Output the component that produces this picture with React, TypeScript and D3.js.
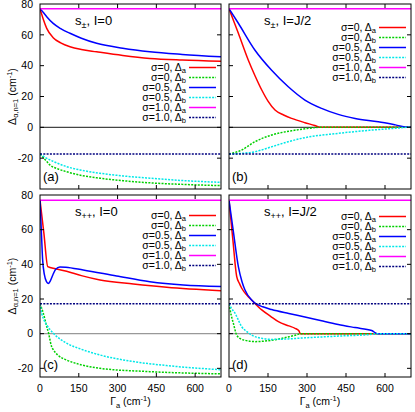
import React from "react";
import * as d3 from "d3";

type Pt = [number, number];

// ---------- data ----------
const GAMMA_DOMAIN: [number, number] = [0, 700];
const GAMMA_TICKS = [0, 150, 300, 450, 600];
const Y_TICKS = [-20, 0, 20, 40, 60, 80];
const TOP_Y_DOMAIN: [number, number] = [-40, 80];
const BOTTOM_Y_DOMAIN: [number, number] = [-25, 80];

const LEGEND_MAIN = ["σ=0, Δ", "σ=0, Δ", "σ=0.5, Δ", "σ=0.5, Δ", "σ=1.0, Δ", "σ=1.0, Δ"];
const LEGEND_SUB = ["a", "b", "a", "b", "a", "b"];

// panel (a): s±, I=0
const A_S0_A: Pt[] = [[0, 77], [13, 70], [26, 64.2], [51, 58.1], [80, 54.8], [116, 52.3], [160, 50.5], [219, 49], [320, 46.6], [425, 44.7], [550, 43.6], [700, 42.8]];
const A_S0_B: Pt[] = [[0, -17.3], [20, -21], [39, -24.5], [70, -27], [103, -28.8], [160, -31.2], [232, -33], [320, -34.6], [425, -36], [550, -37], [700, -37.8]];
const A_S05_A: Pt[] = [[0, 77], [13, 74.5], [26, 71.8], [51, 67.4], [80, 64], [116, 61], [160, 57.8], [219, 54.5], [320, 51.3], [425, 49], [550, 47.3], [700, 45.8]];
const A_S05_B: Pt[] = [[0, -17.3], [20, -19.5], [50, -22], [103, -25.5], [160, -27.8], [232, -29.8], [320, -31.5], [425, -33], [550, -34.5], [700, -35.7]];
const A_S1_A: Pt[] = [[0, 77], [700, 77]];
const A_S1_B: Pt[] = [[0, -17.3], [700, -17.3]];

// panel (b): s±, I=J/2
const B_S0_A: Pt[] = [[0, 77], [18, 69], [36, 61], [74, 43.7], [100, 33.5], [126, 24.2], [150, 17], [177, 11.2], [210, 8], [241, 5.8], [292, 3], [330, 1.2], [350, 0], [700, 0]];
const B_S0_B: Pt[] = [[0, -17.3], [49, -14.7], [100, -9.3], [164, -5], [241, -2.2], [300, -0.8], [350, 0], [700, 0]];
const B_S05_A: Pt[] = [[0, 77], [36, 67.5], [100, 50], [164, 37], [228, 26.3], [292, 17.7], [356, 12.3], [420, 8.4], [485, 5.8], [574, 3.6], [640, 1.6], [690, 0], [700, 0]];
const B_S05_B: Pt[] = [[0, -17.3], [40, -17], [100, -15.8], [164, -12.6], [228, -9.3], [292, -6.7], [420, -3.9], [549, -1.8], [640, -0.6], [690, 0], [700, 0]];
const B_S1_A: Pt[] = [[0, 77], [700, 77]];
const B_S1_B: Pt[] = [[0, -17.3], [700, -17.3]];

// panel (c): s++, I=0
const C_S0_A: Pt[] = [[0, 77], [15, 58], [30, 38.7], [60, 37.5], [103, 36], [160, 33.5], [232, 31], [361, 28.7], [490, 26.8], [700, 24.8]];
const C_S0_B: Pt[] = [[0, 17.3], [13, 11.7], [28, 3], [33, 0.5], [36, -1.7], [45, -7.5], [52, -9.4], [70, -12.5], [103, -15.2], [160, -18], [232, -20], [425, -21.9], [700, -23.2]];
const C_S05_A: Pt[] = [[0, 77], [5, 60], [10, 43], [17, 34], [25, 30], [32, 29], [40, 30.5], [50, 34], [60, 37], [77, 38.5], [100, 38.3], [167, 36.7], [296, 33.3], [425, 30], [554, 28.1], [700, 27.2]];
const C_S05_B: Pt[] = [[0, 17.3], [6.5, 11.7], [15, 8], [26, 5], [52, 0.2], [103, -5.5], [160, -9], [232, -12.3], [361, -16.1], [490, -18.4], [700, -20.8]];
const C_S1_A: Pt[] = [[0, 77], [700, 77]];
const C_S1_B: Pt[] = [[0, 17.3], [700, 17.3]];

// panel (d): s++, I=J/2
const D_S0_A: Pt[] = [[0, 77], [15, 54], [29.5, 33], [40, 29], [49, 26.2], [70, 22], [87, 19.4], [126, 13.7], [160, 10], [190, 6.9], [230, 4.5], [254, 3.1], [268, 1.8], [275, 0], [700, 0]];
const D_S0_B: Pt[] = [[0, 17.3], [8, 11], [16.7, 6], [29.5, -0.8], [45, -3], [61.5, -3.8], [100, -4.6], [164, -3.8], [228, -1.9], [260, -0.7], [275, 0], [700, 0]];
const D_S05_A: Pt[] = [[0, 77], [16.7, 59], [36, 38.7], [50, 30], [61.5, 25.2], [87, 19.4], [100, 17.6], [130, 15.5], [164, 13.9], [230, 11.6], [292, 9.6], [356, 7.4], [420, 5.3], [485, 3.5], [549, 1.8], [570, 0], [700, 0]];
const D_S05_B: Pt[] = [[0, 17.3], [10, 14.5], [23, 11.8], [49, 4], [70, 1], [87, -0.8], [126, -2.7], [164, -3.3], [230, -3], [292, -2.4], [420, -1.4], [549, -0.4], [570, 0], [700, 0]];
const D_S1_A: Pt[] = [[0, 77], [700, 77]];
const D_S1_B: Pt[] = [[0, 17.3], [700, 17.3]];

// ---------- styles ----------
const COLORS = ["#ff0000", "#00d000", "#0000ff", "#00e8e8", "#ff00ff", "#00007f"];
const DASHES = [null, "2,1.3", null, "2,1.3", null, "2,1.3"];
const FONT = "'Liberation Sans', Arial, Helvetica, sans-serif";

const COLS = [{ x0: 40, x1: 221 }, { x0: 229, x1: 411 }];
const ROWS = [
  { y0: 4, y1: 189, domain: TOP_Y_DOMAIN, zero: "#444" },
  { y0: 195, y1: 377, domain: BOTTOM_Y_DOMAIN, zero: "#999" },
];

const PANELS = [
  { id: "a", col: 0, row: 0, sub: "±", rest: ", I=0", letter: "(a)", legendY: 67.5, series: [A_S0_A, A_S0_B, A_S05_A, A_S05_B, A_S1_A, A_S1_B] },
  { id: "b", col: 1, row: 0, sub: "±", rest: ", I=J/2", letter: "(b)", legendY: 27.5, series: [B_S0_A, B_S0_B, B_S05_A, B_S05_B, B_S1_A, B_S1_B] },
  { id: "c", col: 0, row: 1, sub: "++", rest: ", I=0", letter: "(c)", legendY: 215.5, series: [C_S0_A, C_S0_B, C_S05_A, C_S05_B, C_S1_A, C_S1_B] },
  { id: "d", col: 1, row: 1, sub: "++", rest: ", I=J/2", letter: "(d)", legendY: 216.5, series: [D_S0_A, D_S0_B, D_S05_A, D_S05_B, D_S1_A, D_S1_B] },
];

function Panel({ p }: { p: (typeof PANELS)[number] }) {
  const c = COLS[p.col];
  const r = ROWS[p.row];
  const x = d3.scaleLinear().domain(GAMMA_DOMAIN).range([c.x0, c.x1]);
  const y = d3.scaleLinear().domain(r.domain).range([r.y1, r.y0]);
  const line = d3
    .line<Pt>()
    .x((d) => x(d[0]))
    .y((d) => y(d[1]))
    .curve(d3.curveMonotoneX);
  const clipId = `clip-${p.id}`;
  const tl = 4;
  const xTicks = GAMMA_TICKS.filter((t) => t > 0);
  const yTicks = Y_TICKS.filter((t) => t > r.domain[0] && t < r.domain[1]);
  return (
    <g>
      <defs>
        <clipPath id={clipId}>
          <rect x={c.x0} y={r.y0} width={c.x1 - c.x0} height={r.y1 - r.y0} />
        </clipPath>
      </defs>
      <line x1={c.x0} x2={c.x1} y1={y(0)} y2={y(0)} stroke={r.zero} strokeWidth={1.2} />
      <g clipPath={`url(#${clipId})`}>
        {p.series.map((s, i) => (
          <path
            key={i}
            d={line(s) || ""}
            fill="none"
            stroke={COLORS[i]}
            strokeWidth={1.5}
            strokeDasharray={DASHES[i] || undefined}
          />
        ))}
      </g>
      {/* ticks */}
      {xTicks.map((t) => (
        <g key={"xt" + t}>
          <line x1={x(t)} x2={x(t)} y1={r.y1} y2={r.y1 - tl} stroke="#000" />
          <line x1={x(t)} x2={x(t)} y1={r.y0} y2={r.y0 + tl} stroke="#000" />
        </g>
      ))}
      {yTicks.map((t) => (
        <g key={"yt" + t}>
          <line x1={c.x0} x2={c.x0 + tl} y1={y(t)} y2={y(t)} stroke="#000" />
          <line x1={c.x1} x2={c.x1 - tl} y1={y(t)} y2={y(t)} stroke="#000" />
        </g>
      ))}
      <rect x={c.x0} y={r.y0} width={c.x1 - c.x0} height={r.y1 - r.y0} fill="none" stroke="#000" strokeWidth={1} />
      {/* tick labels */}
      {p.col === 0 &&
        Y_TICKS.filter((t) => t >= r.domain[0] && t <= r.domain[1]).map((t) => (
          <text key={"yl" + t} x={c.x0 - 7} y={y(t)} dy="0.35em" textAnchor="end" fontSize={10.5} fontFamily={FONT}>
            {t}
          </text>
        ))}
      {p.row === 1 &&
        GAMMA_TICKS.map((t) => (
          <text key={"xl" + t} x={x(t)} y={r.y1 + 15} textAnchor="middle" fontSize={10.5} fontFamily={FONT}>
            {t}
          </text>
        ))}
      {/* title */}
      <text x={c.x0 + 35} y={r.y0 + 21} fontSize={13} fontFamily={FONT}>
        s
        <tspan dy={3} fontSize={9}>{p.sub}</tspan>
        <tspan dy={-3}>{p.rest}</tspan>
      </text>
      {/* panel letter */}
      <text x={c.x0 + 3} y={r.y1 - 8} fontSize={13} fontFamily={FONT}>
        {p.letter}
      </text>
      {/* legend */}
      {LEGEND_MAIN.map((lab, i) => {
        const ly = p.legendY + i * 10;
        return (
          <g key={"lg" + i}>
            <text x={c.x1 - 35} y={ly} dy="0.33em" textAnchor="end" fontSize={10.5} fontFamily={FONT}>
              {lab}
              <tspan dy={2.5} fontSize={7.5}>{LEGEND_SUB[i]}</tspan>
            </text>
            <line
              x1={c.x1 - 32}
              x2={c.x1 - 5}
              y1={ly}
              y2={ly}
              stroke={COLORS[i]}
              strokeWidth={1.5}
              strokeDasharray={DASHES[i] || undefined}
            />
          </g>
        );
      })}
    </g>
  );
}

export default function App() {
  return (
    <svg width={415} height={412} style={{ position: "absolute", left: 0, top: 0, background: "#fff" }}>
      {PANELS.map((p) => (
        <Panel key={p.id} p={p} />
      ))}
      {ROWS.map((r, i) => (
        <text
          key={"ylab" + i}
          transform={`translate(15.5,${(r.y0 + r.y1) / 2}) rotate(-90)`}
          textAnchor="middle"
          fontSize={10.5}
          fontFamily={FONT}
        >
          Δ<tspan dy={2.5} fontSize={7.5}>α,n=1</tspan>
          <tspan dy={-2.5}> (cm</tspan>
          <tspan dy={-4} fontSize={7.5}>-1</tspan>
          <tspan dy={4}>)</tspan>
        </text>
      ))}
      {COLS.map((c, i) => (
        <text key={"xlab" + i} x={(c.x0 + c.x1) / 2} y={405} textAnchor="middle" fontSize={10.5} fontFamily={FONT}>
          Γ<tspan dy={2.5} fontSize={7.5}>a</tspan>
          <tspan dy={-2.5}> (cm</tspan>
          <tspan dy={-4} fontSize={7.5}>-1</tspan>
          <tspan dy={4}>)</tspan>
        </text>
      ))}
    </svg>
  );
}
